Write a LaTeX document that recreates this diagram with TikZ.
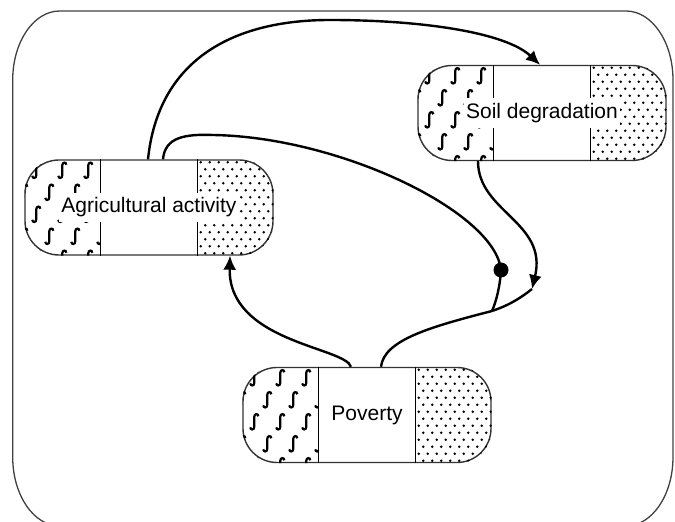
\documentclass[tikz,border=0pt]{standalone}
\usepackage{fontspec}
\setmainfont{Liberation Sans}
\usetikzlibrary{arrows.meta,calc}
\tikzset{
  pill/.style={draw=black!80,line width=1.4pt,rounded corners=34pt,minimum width=248pt,minimum height=95pt,inner sep=0pt},
  lbl/.style={fill=white,inner xsep=2pt,inner ysep=5pt,font=\fontsize{21}{25}\selectfont},
  conn/.style={line width=2.4pt},
  arrowed/.style={-{Latex[length=14pt,width=13pt]}},
  dotmark/.style={circle,fill,inner sep=0pt,minimum size=15pt},
  sglyph/.pic={\draw[line width=2.2pt] (4,5.5) .. controls (4,8.5) and (0,8.5) .. (0,5) -- (0,-5) .. controls (0,-8.5) and (-4,-8.5) .. (-4,-5.5);}
}
\begin{document}
\begin{tikzpicture}[x=1pt,y=1pt]
	\clip (0,0) rectangle (675,522);
	\draw[black!75,line width=1.3pt] (12.7,442) -- (12.7,65) arc[start angle=180,end angle=270,x radius=47,y radius=69] -- (626,-4) arc[start angle=270,end angle=360,x radius=47,y radius=69] -- (673,442) arc[start angle=0,end angle=90,x radius=47,y radius=69] -- (59.7,511) arc[start angle=90,end angle=180,x radius=47,y radius=69] -- cycle;
	\node[pill] (agri) at (149,314.5) {};
	\node[pill] (soil) at (542,409) {};
	\node[pill] (pov) at (367,107) {};
	\foreach \n in {agri,soil,pov} {
		\begin{scope}
			\clip[rounded corners=34pt] (\n.south west) rectangle (\n.north east);
			\begin{scope}
				\clip (\n.south west) rectangle ([xshift=76pt]\n.north west);
				\foreach \r in {0,...,4} \foreach \c in {0,...,3} {
					\pgfmathsetmacro\gx{12+26*\c-13*mod(\r,2)}
					\pic at ($(\n.north west)+(\gx,-11-22*\r)$) {sglyph};
				}
			\end{scope}
			\foreach \r in {0,...,13} \foreach \c in {0,...,8} {
				\pgfmathsetmacro\ddx{3+9*\c+4.5*mod(\r,2)}
				\fill ($(\n.north east)+(\ddx-76,-3-7*\r)$) circle (1.4);
			}
		\end{scope}
		\draw[line width=1.5pt] ([xshift=76pt]\n.south west) -- ([xshift=76pt]\n.north west);
		\draw[line width=1.5pt] ([xshift=-76pt]\n.south east) -- ([xshift=-76pt]\n.north east);
	}
	\node[lbl] (agrilbl) at (agri) {Agricultural activity};
	\node[lbl] (soillbl) at (soil) {Soil degradation};
	\node[lbl] (povlbl) at (pov) {Poverty};
	%links
	\coordinate (merge) at (492,211);
	\coordinate (join) at (532,233);
	\node[dotmark] (dot) at (501,252) {};
	\draw[conn,arrowed] ([xshift=-1pt]agri.north) .. controls (158,460) and (230,502) .. (330,502) .. controls (420,502) and (505,490) .. ([xshift=-2pt]soil.north);
	\draw[conn] ([xshift=14pt]agri.north) .. controls (165,385) and (185,388) .. (213,387) .. controls (340,385) and (495,310) .. (dot.center) .. controls (500,235) and (496,220) .. (merge);
	\draw[conn] ([xshift=14pt]pov.north) .. controls (384,182) and (430,195) .. (merge) .. controls (510,217) and (522,225) .. (join);
	\draw[conn,arrowed] ([xshift=-64pt]soil.south) .. controls (478,310) and (548,300) .. (join);
	\draw[conn,arrowed] ([xshift=-16pt]pov.north) .. controls (345,175) and (228,180) .. ([xshift=81pt]agri.south);
\end{tikzpicture}
\end{document}
